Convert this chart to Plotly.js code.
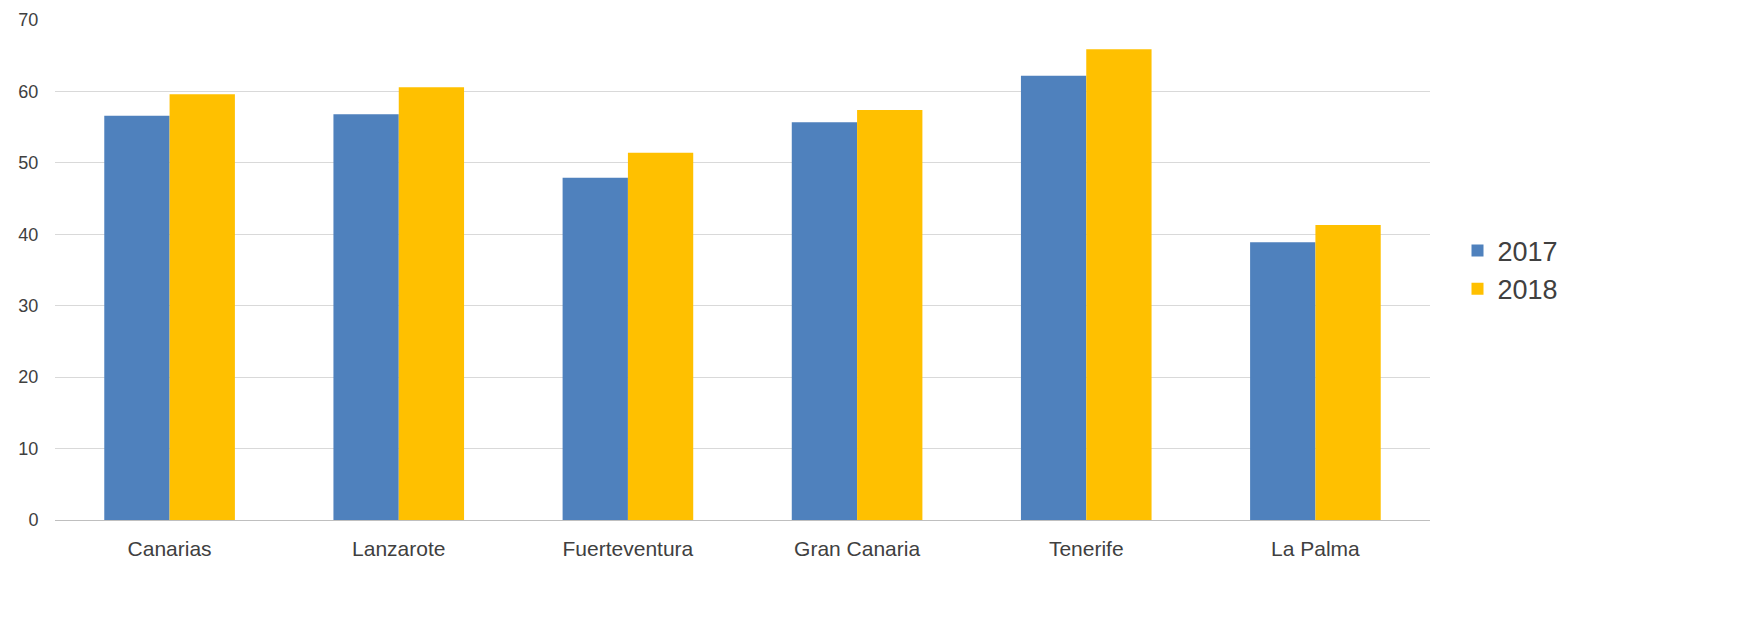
<!DOCTYPE html>
<html>
<head>
<meta charset="utf-8">
<script src="https://cdn.plot.ly/plotly-3.0.1.min.js"></script>
<style>html,body{margin:0;padding:0;background:#fff;}</style>
</head>
<body>
<div id="chart" style="width:1746px;height:622px;"></div>
<script>
const islands = ["Canarias", "Lanzarote", "Fuerteventura", "Gran Canaria", "Tenerife", "La Palma"];
const values2017 = [56.6, 56.8, 47.9, 55.7, 62.2, 38.9];
const values2018 = [59.6, 60.6, 51.4, 57.4, 65.9, 41.3];

const data = [
  { type: "bar", name: "2017", x: islands, y: values2017, marker: { color: "#4F81BD" } },
  { type: "bar", name: "2018", x: islands, y: values2018, marker: { color: "#FFC000" } }
];

const layout = {
  width: 1746,
  height: 622,
  margin: { l: 55, r: 316, t: 20, b: 102 },
  font: { family: "Liberation Sans, Arial, sans-serif", size: 18, color: "#404040" },
  paper_bgcolor: "#fff",
  plot_bgcolor: "#fff",
  barmode: "group",
  bargap: 0.43,
  bargroupgap: 0,
  xaxis: { showline: true, linecolor: "#bfbfbf", ticks: "outside", ticklen: 10, tickcolor: "#fff", tickfont: { size: 21 } },
  yaxis: {
    range: [0, 70], dtick: 10, gridcolor: "#d9d9d9", zeroline: false,
    showline: false, ticks: "outside", ticklen: 12, tickcolor: "#fff", tickfont: { size: 18 }
  },
  legend: { x: 1.02, y: 0.5, yanchor: "middle", font: { size: 27, color: "#404040" }, itemwidth: 30 },
  showlegend: true
};

Plotly.newPlot("chart", data, layout, { displayModeBar: false });
</script>
</body>
</html>
